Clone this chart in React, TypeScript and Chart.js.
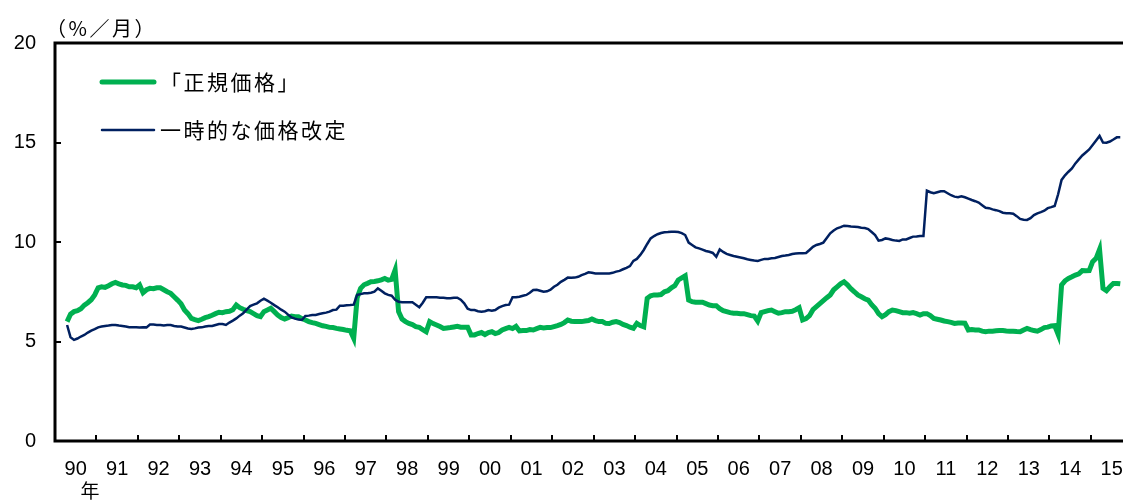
import React, { useEffect, useRef } from "react";
import { Chart, registerables } from "chart.js";

Chart.register(...registerables);

// Month index of the first observation (0 = January 1990) -> April 1990
const START_MONTH = 3;
// Number of monthly slots on the axis (Jan 1990 – Sep 2015)
const AXIS_MONTHS = 309;

const yearLabels = [
  "90", "91", "92", "93", "94", "95", "96", "97", "98", "99",
  "00", "01", "02", "03", "04", "05", "06", "07", "08", "09",
  "10", "11", "12", "13", "14", "15",
];

const yTicks = [0, 5, 10, 15, 20];

const seriesNames = ["「正規価格」", "一時的な価格改定"];

// 「正規価格」 monthly values (%/month), Apr 1990 – Sep 2015
const regularPrice = [
  /*1990*/ 6.0, 6.37, 6.5, 6.55, 6.65, 6.83, 6.95, 7.1, 7.34,
  /*1991*/ 7.7, 7.75, 7.72, 7.8, 7.9, 7.97, 7.9, 7.84, 7.82, 7.75, 7.75, 7.7,
  /*1992*/ 7.84, 7.45, 7.6, 7.67, 7.65, 7.7, 7.7, 7.6, 7.5, 7.42, 7.25, 7.08,
  /*1993*/ 6.9, 6.58, 6.4, 6.16, 6.1, 6.05, 6.12, 6.2, 6.25, 6.32, 6.4, 6.47,
  /*1994*/ 6.45, 6.5, 6.52, 6.6, 6.83, 6.7, 6.62, 6.55, 6.5, 6.4, 6.3, 6.25,
  /*1995*/ 6.5, 6.58, 6.67, 6.5, 6.33, 6.2, 6.13, 6.2, 6.28, 6.25, 6.25, 6.15,
  /*1996*/ 6.08, 6.0, 5.95, 5.91, 5.85, 5.79, 5.76, 5.71, 5.7, 5.66, 5.63, 5.6,
  /*1997*/ 5.56, 5.54, 5.16, 7.2, 7.67, 7.85, 7.92, 8.0, 8.02, 8.05, 8.1, 8.17,
  /*1998*/ 8.08, 8.12, 8.59, 6.5, 6.13, 6.0, 5.91, 5.85, 5.75, 5.71, 5.6, 5.49,
  /*1999*/ 6.0, 5.9, 5.83, 5.75, 5.66, 5.68, 5.7, 5.73, 5.76, 5.72, 5.72, 5.72,
  /*2000*/ 5.33, 5.33, 5.4, 5.45, 5.35, 5.45, 5.49, 5.4, 5.45, 5.58, 5.65, 5.71,
  /*2001*/ 5.65, 5.76, 5.53, 5.55, 5.55, 5.6, 5.58, 5.65, 5.71, 5.68, 5.7, 5.7,
  /*2002*/ 5.75, 5.8, 5.86, 5.95, 6.08, 6.02, 6.0, 6.0, 6.0, 6.03, 6.05, 6.13,
  /*2003*/ 6.05, 6.0, 6.0, 5.91, 5.9, 5.97, 6.0, 5.95, 5.86, 5.8, 5.72, 5.66,
  /*2004*/ 5.91, 5.8, 5.74, 7.17, 7.3, 7.34, 7.34, 7.36, 7.5, 7.55, 7.7, 7.8,
  /*2005*/ 8.09, 8.2, 8.3, 7.08, 7.0, 6.97, 6.97, 6.97, 6.9, 6.83, 6.8, 6.8,
  /*2006*/ 6.65, 6.55, 6.5, 6.45, 6.42, 6.42, 6.4, 6.4, 6.35, 6.3, 6.28, 6.03,
  /*2007*/ 6.45, 6.5, 6.55, 6.58, 6.5, 6.42, 6.45, 6.5, 6.5, 6.52, 6.6, 6.7,
  /*2008*/ 6.08, 6.15, 6.3, 6.6, 6.75, 6.9, 7.05, 7.2, 7.34, 7.6, 7.75, 7.9,
  /*2009*/ 8.0, 7.85, 7.65, 7.5, 7.34, 7.25, 7.15, 7.08, 6.85, 6.67, 6.4, 6.25,
  /*2010*/ 6.35, 6.5, 6.58, 6.55, 6.5, 6.45, 6.45, 6.42, 6.45, 6.4, 6.33, 6.4,
  /*2011*/ 6.4, 6.3, 6.16, 6.12, 6.08, 6.03, 6.0, 5.96, 5.91, 5.93, 5.93, 5.92,
  /*2012*/ 5.58, 5.6, 5.58, 5.58, 5.52, 5.49, 5.52, 5.52, 5.54, 5.55, 5.55, 5.53,
  /*2013*/ 5.52, 5.52, 5.5, 5.49, 5.58, 5.66, 5.6, 5.55, 5.52, 5.6, 5.7, 5.72,
  /*2014*/ 5.78, 5.8, 5.36, 7.84, 8.05, 8.17, 8.25, 8.34, 8.4, 8.56, 8.55, 8.56,
  /*2015*/ 9.01, 9.18, 9.63, 7.67, 7.55, 7.75, 7.92, 7.92, 7.9,
];

// 一時的な価格改定 monthly values (%/month), Apr 1990 – Sep 2015
const temporaryChange = [
  /*1990*/ 5.83, 5.21, 5.08, 5.15, 5.25, 5.33, 5.45, 5.55, 5.62,
  /*1991*/ 5.71, 5.75, 5.78, 5.8, 5.83, 5.83, 5.8, 5.78, 5.75, 5.72, 5.71, 5.72,
  /*1992*/ 5.7, 5.72, 5.71, 5.85, 5.85, 5.83, 5.83, 5.8, 5.83, 5.83, 5.78, 5.75,
  /*1993*/ 5.75, 5.7, 5.65, 5.63, 5.66, 5.7, 5.71, 5.75, 5.78, 5.78, 5.83, 5.88,
  /*1994*/ 5.88, 5.83, 5.95, 6.05, 6.16, 6.3, 6.42, 6.6, 6.78, 6.85, 6.92, 7.05,
  /*1995*/ 7.15, 7.05, 6.95, 6.83, 6.72, 6.6, 6.5, 6.35, 6.21, 6.15, 6.1, 6.08,
  /*1996*/ 6.28, 6.3, 6.33, 6.33, 6.38, 6.42, 6.45, 6.5, 6.58, 6.6, 6.8, 6.8,
  /*1997*/ 6.82, 6.83, 6.85, 7.34, 7.38, 7.42, 7.42, 7.45, 7.5, 7.67, 7.55, 7.42,
  /*1998*/ 7.34, 7.3, 7.1, 7.0, 6.97, 6.97, 6.97, 6.97, 6.85, 6.72, 6.95, 7.22,
  /*1999*/ 7.22, 7.22, 7.22, 7.2, 7.2, 7.17, 7.17, 7.2, 7.2, 7.1, 6.92, 6.65,
  /*2000*/ 6.58, 6.58, 6.52, 6.5, 6.52, 6.58, 6.55, 6.58, 6.7, 6.78, 6.83, 6.85,
  /*2001*/ 7.22, 7.22, 7.25, 7.3, 7.34, 7.45, 7.59, 7.6, 7.55, 7.5, 7.52, 7.6,
  /*2002*/ 7.75, 7.85, 8.0, 8.1, 8.21, 8.2, 8.21, 8.25, 8.34, 8.4, 8.48, 8.45,
  /*2003*/ 8.42, 8.42, 8.42, 8.42, 8.42, 8.45, 8.51, 8.55, 8.63, 8.7, 8.79, 9.05,
  /*2004*/ 9.15, 9.35, 9.6, 9.9, 10.18, 10.3, 10.39, 10.45, 10.49, 10.5, 10.52, 10.52,
  /*2005*/ 10.5, 10.45, 10.35, 9.97, 9.85, 9.73, 9.68, 9.62, 9.55, 9.51, 9.45, 9.26,
  /*2006*/ 9.63, 9.5, 9.4, 9.35, 9.3, 9.26, 9.22, 9.18, 9.13, 9.1, 9.07, 9.05,
  /*2007*/ 9.1, 9.15, 9.15, 9.18, 9.2, 9.25, 9.3, 9.32, 9.35, 9.4, 9.42, 9.43,
  /*2008*/ 9.43, 9.45, 9.6, 9.76, 9.85, 9.9, 9.97, 10.2, 10.44, 10.58, 10.69, 10.75,
  /*2009*/ 10.82, 10.8, 10.78, 10.77, 10.75, 10.72, 10.7, 10.65, 10.5, 10.35, 10.07, 10.1,
  /*2010*/ 10.18, 10.15, 10.1, 10.07, 10.05, 10.13, 10.13, 10.2, 10.27, 10.28, 10.3, 10.3,
  /*2011*/ 12.58, 12.5, 12.45, 12.5, 12.55, 12.55, 12.45, 12.35, 12.28, 12.25, 12.3, 12.25,
  /*2012*/ 12.18, 12.11, 12.05, 11.98, 11.85, 11.72, 11.7, 11.64, 11.6, 11.55, 11.47, 11.45,
  /*2013*/ 11.45, 11.42, 11.3, 11.16, 11.12, 11.11, 11.2, 11.35, 11.44, 11.5, 11.57, 11.7,
  /*2014*/ 11.75, 11.81, 12.4, 13.12, 13.35, 13.53, 13.7, 13.95, 14.15, 14.35, 14.5, 14.65,
  /*2015*/ 14.87, 15.1, 15.33, 15.0, 14.99, 15.05, 15.15, 15.26, 15.26,
];

const GREEN = "#00B050";
const NAVY = "#002060";
const NUM_FONT = "'Liberation Sans', Arial, sans-serif";
const JP_FONT = "'Noto Sans CJK JP', sans-serif";

const toPoints = (vals: number[]) =>
  vals.map((v, i) => ({ x: START_MONTH + i + 0.5, y: v }));

const decorPlugin = {
  id: "decor",
  afterDraw(chart: any) {
    const { ctx, chartArea: a, scales } = chart;
    const xs = scales.x;
    const ys = scales.y;
    ctx.save();
    // frame: top, left, bottom
    ctx.strokeStyle = "#000";
    ctx.lineWidth = 3;
    ctx.lineCap = "square";
    ctx.beginPath();
    ctx.moveTo(a.right + 2, a.top);
    ctx.lineTo(a.left, a.top);
    ctx.lineTo(a.left, a.bottom);
    ctx.lineTo(a.right + 2, a.bottom);
    ctx.stroke();
    // inward tick marks
    ctx.lineWidth = 2;
    ctx.lineCap = "butt";
    ctx.beginPath();
    for (let k = 1; k < yearLabels.length; k++) {
      const px = Math.round(xs.getPixelForValue(k * 12));
      ctx.moveTo(px, a.bottom);
      ctx.lineTo(px, a.bottom - 6);
    }
    for (const v of yTicks.slice(1, -1)) {
      const py = Math.round(ys.getPixelForValue(v));
      ctx.moveTo(a.left, py);
      ctx.lineTo(a.left + 6, py);
    }
    ctx.stroke();

    // unit label
    ctx.fillStyle = "#000";
    ctx.textBaseline = "middle";
    ctx.textAlign = "left";
    ctx.font = `20px ${JP_FONT}`;
    (ctx as any).letterSpacing = "2.5px";
    ctx.fillText("（%／月）", a.left - 9, 28);
    (ctx as any).letterSpacing = "0px";

    // 年 under first label
    ctx.font = `19px ${JP_FONT}`;
    ctx.textAlign = "center";
    ctx.fillText("年", 90, 491);

    // legend
    ctx.textAlign = "left";
    const items = [
      { color: GREEN, width: 5, y: 82 },
      { color: NAVY, width: 2.5, y: 130 },
    ];
    items.forEach((it, i) => {
      ctx.strokeStyle = it.color;
      ctx.lineWidth = it.width;
      ctx.lineCap = "round";
      ctx.beginPath();
      ctx.moveTo(102, it.y);
      ctx.lineTo(154, it.y);
      ctx.stroke();
      ctx.fillStyle = "#000";
      ctx.font = `21px ${JP_FONT}`;
      (ctx as any).letterSpacing = "2.5px";
      ctx.fillText(seriesNames[i], 160, it.y);
      (ctx as any).letterSpacing = "0px";
    });
    ctx.restore();
  },
};

export default function App() {
  const canvasRef = useRef<HTMLCanvasElement | null>(null);

  useEffect(() => {
    const canvas = canvasRef.current;
    if (!canvas) return;
    const chart = new Chart(canvas, {
      type: "line",
      data: {
        datasets: [
          {
            label: seriesNames[0],
            data: toPoints(regularPrice),
            borderColor: GREEN,
            backgroundColor: GREEN,
            borderWidth: 5,
            pointRadius: 0,
            tension: 0,
            order: 1,
          },
          {
            label: seriesNames[1],
            data: toPoints(temporaryChange),
            borderColor: NAVY,
            backgroundColor: NAVY,
            borderWidth: 2.5,
            pointRadius: 0,
            tension: 0,
            order: 0,
          },
        ],
      },
      options: {
        animation: false,
        responsive: false,
        devicePixelRatio: 1,
        layout: { padding: { top: 43, right: 1, left: 0, bottom: 0 } },
        plugins: { legend: { display: false }, tooltip: { enabled: false } },
        scales: {
          x: {
            type: "linear",
            min: 0,
            max: AXIS_MONTHS,
            grid: { display: false, drawTicks: false },
            border: { display: false },
            afterBuildTicks: (scale: any) => {
              scale.ticks = yearLabels.map((_, i) => ({ value: i * 12 + 6 }));
            },
            afterFit: (scale: any) => {
              scale.height = 62;
              scale.paddingLeft = 0;
              scale.paddingRight = 0;
            },
            ticks: {
              autoSkip: false,
              maxRotation: 0,
              padding: 16,
              color: "#000",
              font: { family: NUM_FONT, size: 20 },
              callback: (_v: any, i: number) => yearLabels[i],
            },
          },
          y: {
            min: 0,
            max: 20,
            grid: { display: false, drawTicks: false },
            border: { display: false },
            afterBuildTicks: (scale: any) => {
              scale.ticks = yTicks.map((v) => ({ value: v }));
            },
            afterFit: (scale: any) => {
              scale.width = 55;
              scale.paddingTop = 0;
              scale.paddingBottom = 0;
            },
            ticks: {
              padding: 19,
              color: "#000",
              font: { family: NUM_FONT, size: 20 },
              callback: (v: any) => String(v),
            },
          },
        },
      },
      plugins: [decorPlugin],
    });
    return () => chart.destroy();
  }, []);

  return (
    <div style={{ position: "absolute", left: 0, top: 0, width: 1123, height: 503, background: "#fff" }}>
      <canvas ref={canvasRef} width={1123} height={503} style={{ display: "block" }} />
    </div>
  );
}
